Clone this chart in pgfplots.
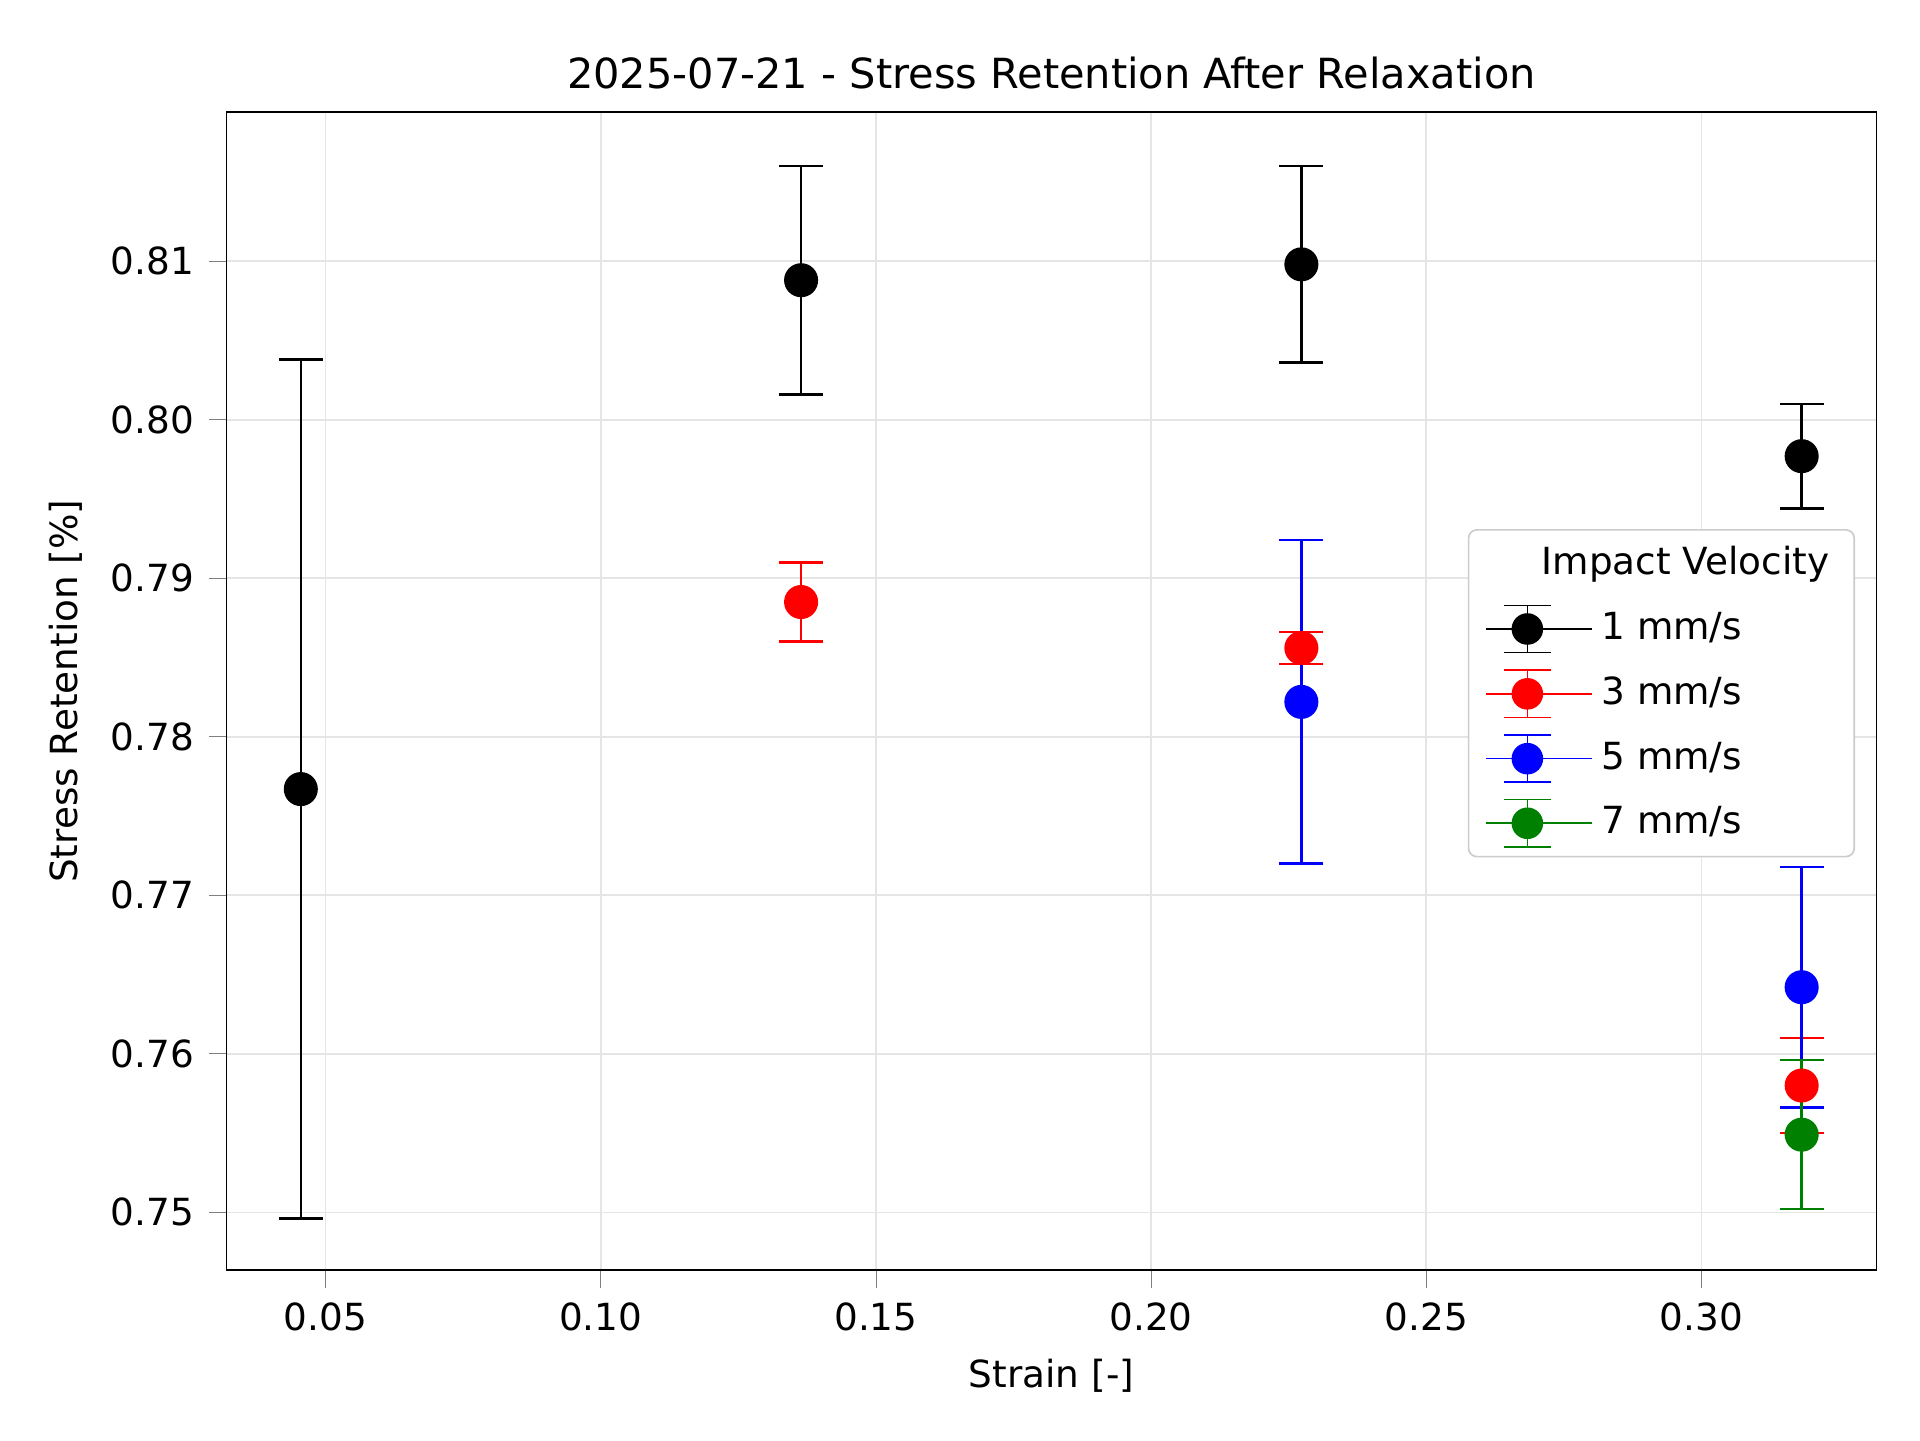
\documentclass[border=0pt]{standalone}
\usepackage{pgfplots}
\pgfplotsset{compat=1.18}
\usepackage{fontspec}
\setmainfont{DejaVu Sans}
\definecolor{mgreen}{rgb}{0,0.5,0}
\begin{document}
\begin{tikzpicture}
\path (-0.755in,-0.566in) rectangle (5.645in,4.234in);
\begin{axis}[
  scale only axis, width=5.50in, height=3.86in,
  at={(0,0)}, anchor=south west,
  xmin=0.032, xmax=0.3318, ymin=0.74635, ymax=0.8194,
  xtick={0.05,0.10,...,0.30}, ytick={0.75,0.76,...,0.81},
  xticklabel style={/pgf/number format/.cd,fixed,fixed zerofill,precision=2},
  yticklabel style={/pgf/number format/.cd,fixed,fixed zerofill,precision=2},
  /pgf/number format/assume math mode=true,
  tick label style={font=\small}, label style={font=\small},
  grid=major, grid style={gray!20},
  tick align=outside, tick pos=left,
  title={2025-07-21 - Stress Retention After Relaxation},
  title style={font=\normalsize, yshift=-4pt},
  xlabel={Strain [-]}, ylabel={Stress Retention [\%]},
  legend style={at={(0.987,0.64)}, anchor=north east, font=\small, draw=gray!40, rounded corners=2pt, row sep=3.5pt, cells={anchor=west}, inner xsep=4pt},
  error bars/y dir=both, error bars/y explicit,
]
\addlegendimage{empty legend}\addlegendentry{\hspace{-1.6em}Impact Velocity}
\pgfplotsset{every axis plot/.append style={only marks, mark=*, mark size=3.9pt,
  error bars/error mark options={rotate=90, mark size=5.3pt, line width=0.6pt},
  error bars/error bar style={line width=0.6pt},
  legend image code/.code={
   \draw[##1,mark=none] (0.35cm,-0.2cm) -- (0.35cm,0.2cm);
   \draw[##1,mark=none] (0.15cm,-0.2cm) -- (0.55cm,-0.2cm);
   \draw[##1,mark=none] (0.15cm,0.2cm) -- (0.55cm,0.2cm);
   \fill[##1] (0.35cm,0) circle (3.6pt);
   \path (0,0) -- (0.9cm,0);}}}
\addplot[black] coordinates {(0.0455,0.7767) +- (0,0.0271) (0.1364,0.8088) +- (0,0.0072) (0.2273,0.8098) +- (0,0.0062) (0.3182,0.7977) +- (0,0.0033)};
\addlegendentry{1 mm/s}
\addplot[red] coordinates {(0.1364,0.7885) +- (0,0.0025) (0.2273,0.7856) +- (0,0.001) (0.3182,0.7580) +- (0,0.003)};
\addlegendentry{3 mm/s}
\addplot[blue] coordinates {(0.2273,0.7822) +- (0,0.0102) (0.3182,0.7642) +- (0,0.0076)};
\addlegendentry{5 mm/s}
\addplot[mgreen] coordinates {(0.3182,0.7549) +- (0,0.0047)};
\addlegendentry{7 mm/s}
\end{axis}
\end{tikzpicture}
\end{document}
